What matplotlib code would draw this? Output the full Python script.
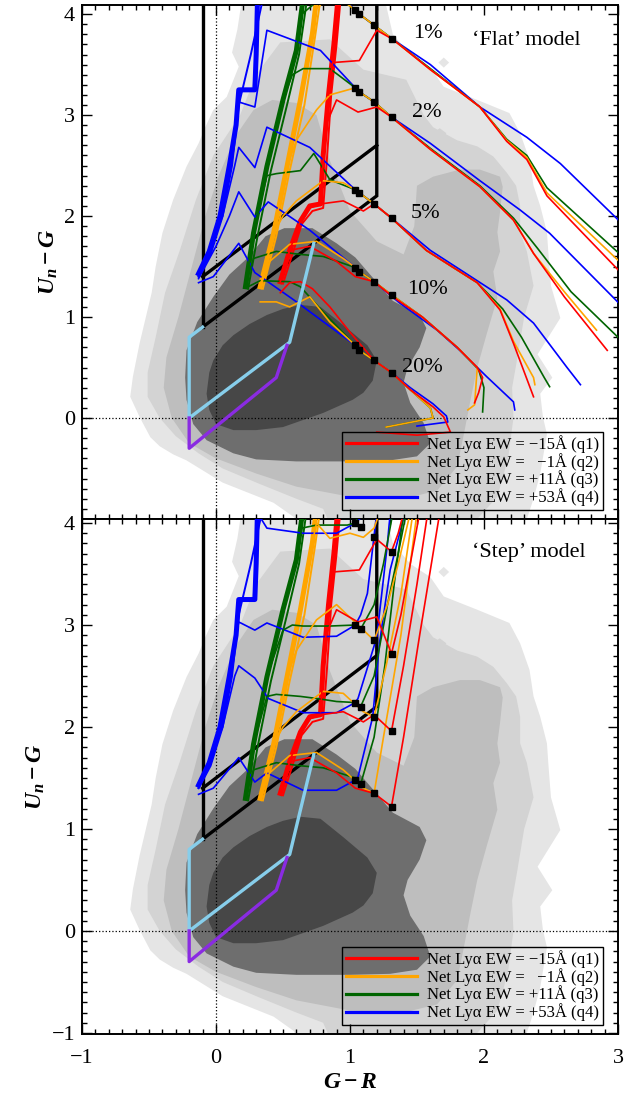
import matplotlib
matplotlib.use("Agg")
import matplotlib.pyplot as plt
from matplotlib.ticker import MultipleLocator
from matplotlib.lines import Line2D

plt.rcParams["font.family"] = ["Liberation Serif", "DejaVu Serif"]
plt.rcParams["mathtext.fontset"] = "custom"
plt.rcParams["mathtext.it"] = "Liberation Serif:italic:bold"
plt.rcParams["mathtext.rm"] = "Liberation Serif:bold"
plt.rcParams["mathtext.bf"] = "Liberation Serif:bold"

FONTSIZE = 16
RED, ORANGE, GREEN, BLUE = "#ff0000", "#ffa500", "#006400", "#0000ff"
SKY, PURPLE = "#87ceeb", "#8a2be2"
GREYS = ["#e5e5e5", "#d3d3d3", "#bebebe", "#6e6e6e", "#474747"]

# galaxy density contours, outermost first (data coords)
CONT_1 = [(0.20, 4.2), (0.16, 3.85), (0.12, 3.62), (0.17, 3.48), (0.08, 3.18), (-0.02, 3.05),
          (-0.08, 2.88), (-0.13, 2.72), (-0.22, 2.49), (-0.32, 2.16), (-0.40, 1.83), (-0.45, 1.50),
          (-0.48, 1.24), (-0.57, 0.74), (-0.62, 0.41), (-0.64, 0.21), (-0.57, 0.01), (-0.49, -0.19),
          (-0.42, -0.28), (-0.32, -0.36), (-0.22, -0.42), (0.05, -0.64), (0.24, -0.74), (0.43, -0.84),
          (0.58, -0.98), (0.65, -1.2), (2.30, -1.2), (2.32, -1.0), (2.37, -0.80), (2.42, -0.55),
          (2.47, -0.16), (2.44, 0.01), (2.42, 0.24), (2.51, 0.40), (2.40, 0.63), (2.57, 0.99),
          (2.50, 1.31), (2.48, 1.65), (2.47, 1.84), (2.42, 2.10), (2.37, 2.30), (2.34, 2.56),
          (2.27, 2.82), (2.19, 3.02), (1.95, 3.15), (1.70, 3.28), (1.60, 3.47), (1.45, 3.60),
          (1.32, 3.80), (1.25, 4.2)]
CONT_1_SPOT = [(1.66, 3.52), (1.70, 3.57), (1.74, 3.52), (1.70, 3.47)]
CONT_2 = [(0.48, 3.72), (0.85, 3.75), (1.10, 3.45), (1.42, 3.35), (1.55, 3.00), (1.62, 2.88),
          (1.80, 2.75), (1.95, 2.69), (2.07, 2.59), (2.17, 2.43), (2.24, 2.30), (2.27, 2.10),
          (2.27, 1.84), (2.32, 1.65), (2.37, 1.31), (2.30, 1.00), (2.25, 0.60), (2.21, 0.30),
          (2.22, 0.00), (2.18, -0.40), (2.10, -0.78), (1.95, -1.0), (1.90, -1.2), (0.90, -1.2),
          (0.80, -0.90), (0.60, -0.80), (0.32, -0.65), (0.05, -0.50), (-0.13, -0.35), (-0.30, -0.18),
          (-0.42, 0.00), (-0.51, 0.21), (-0.51, 0.45), (-0.45, 0.80), (-0.38, 1.24), (-0.27, 1.66),
          (-0.15, 2.16), (-0.02, 2.60), (0.18, 3.00), (0.30, 3.40)]
CONT_2_SPOT = [(1.62, 2.82), (1.67, 2.87), (1.72, 2.82), (1.67, 2.77)]
CONT_3 = [(0.42, 3.15), (0.28, 3.05), (0.15, 2.80), (0.02, 2.40), (-0.08, 2.00), (-0.18, 1.50),
          (-0.28, 1.00), (-0.37, 0.60), (-0.39, 0.30), (-0.33, 0.00), (-0.20, -0.25), (0.00, -0.40),
          (0.30, -0.55), (0.60, -0.68), (1.00, -0.78), (1.40, -0.80), (1.65, -0.72), (1.80, -0.48),
          (1.85, -0.16), (1.90, 0.18), (1.95, 0.50), (2.02, 0.83), (2.10, 1.19), (2.07, 1.45),
          (2.12, 1.65), (2.10, 1.84), (2.12, 2.04), (2.14, 2.29), (2.12, 2.39), (1.97, 2.46),
          (1.82, 2.46), (1.62, 2.39), (1.50, 2.30), (1.48, 1.90), (1.40, 1.62), (1.20, 1.75),
          (1.00, 2.05), (0.85, 2.55), (0.75, 3.00), (0.60, 3.12)]
CONT_4 = [(0.24, 1.59), (0.37, 1.80), (0.51, 1.88), (0.72, 1.88), (0.90, 1.73), (1.04, 1.59),
          (1.32, 1.16), (1.52, 1.02), (1.57, 0.89), (1.52, 0.70), (1.43, 0.50), (1.40, 0.35),
          (1.45, 0.15), (1.55, -0.05), (1.60, -0.25), (1.50, -0.38), (1.30, -0.42), (1.00, -0.43),
          (0.60, -0.43), (0.30, -0.41), (0.13, -0.35), (-0.07, -0.22), (-0.17, -0.06), (-0.22, 0.18),
          (-0.23, 0.40), (-0.22, 0.67), (-0.14, 0.95), (-0.02, 1.20), (0.10, 1.42)]
CONT_5 = [(-0.07, 0.24), (-0.05, 0.45), (-0.02, 0.57), (0.05, 0.72), (0.13, 0.82), (0.25, 0.93),
          (0.38, 1.02), (0.50, 1.08), (0.63, 1.12), (0.78, 1.10), (0.95, 0.92), (1.13, 0.72),
          (1.20, 0.57), (1.17, 0.37), (1.10, 0.25), (1.02, 0.18), (0.80, 0.05), (0.50, -0.09),
          (0.30, -0.12), (0.13, -0.12), (0.00, -0.06), (-0.05, 0.08)]

# selection box and the low-z windows
BOX_LEFT = ([-0.10, -0.10], [4.2, 0.90])
BOX_LOWER = ([-0.10, 1.20, 1.20], [0.90, 2.20, 4.2])
BOX_UPPER = ([-0.10, 1.20], [1.40, 2.70])
SKY_BOX = ([-0.10, -0.20, -0.20, 0.55, 0.73], [0.90, 0.80, 0.00, 0.75, 1.73])
PURPLE_BOX = ([-0.20, -0.20, 0.45, 0.53], [0.00, -0.30, 0.40, 0.72])

# thick low-redshift bundles (same in both panels)
BUNDLES = {
    BLUE: [([-0.13, -0.05, 0.03, 0.10, 0.15, 0.17, 0.29, 0.30, 0.31], [1.43, 1.65, 2.00, 2.50, 2.90, 3.25, 3.25, 3.60, 4.15]),
           ([-0.13, -0.04, 0.05, 0.12, 0.17, 0.26, 0.35], [1.40, 1.62, 2.00, 2.50, 3.10, 3.60, 4.15])],
    GREEN: [([0.22, 0.28, 0.38, 0.50, 0.60, 0.65], [1.30, 1.83, 2.49, 3.15, 3.64, 4.15]),
            ([0.24, 0.31, 0.41, 0.53, 0.62, 0.68], [1.28, 1.80, 2.45, 3.10, 3.60, 4.15])],
    ORANGE: [([0.33, 0.43, 0.53, 0.63, 0.72, 0.75], [1.30, 1.83, 2.49, 3.15, 3.81, 4.15]),
             ([0.35, 0.45, 0.55, 0.66, 0.74, 0.78], [1.28, 1.80, 2.45, 3.10, 3.78, 4.15])],
    RED: [([0.48, 0.55, 0.63, 0.70, 0.78, 0.80, 0.84, 0.88, 0.91], [1.35, 1.66, 1.95, 2.10, 2.12, 2.60, 3.20, 3.70, 4.15]),
          ([0.50, 0.57, 0.64, 0.72, 0.80, 0.83, 0.86, 0.90, 0.93], [1.33, 1.62, 1.92, 2.05, 2.08, 2.60, 3.20, 3.70, 4.15])],
}

# 'Flat' model tracks, one per transmission level (1, 2, 5, 10, 20 %)
FLAT_BLUE = [
    ([0.95, 1.04, 1.07, 1.18, 1.32, 1.60, 1.97, 2.32, 2.57, 3.05], [4.15, 4.04, 4.00, 3.89, 3.75, 3.50, 3.08, 2.78, 2.52, 1.90]),
    ([-0.13, 0.00, 0.10, 0.17, 0.29, 0.38, 0.78, 1.04, 1.07, 1.18, 1.31, 1.60, 1.97, 2.27, 2.49, 3.05], [1.41, 1.85, 2.50, 3.13, 3.08, 3.84, 3.64, 3.27, 3.23, 3.13, 2.98, 2.72, 2.35, 2.06, 1.83, 1.08]),
    ([-0.13, 0.05, 0.14, 0.17, 0.29, 0.38, 0.70, 1.04, 1.07, 1.18, 1.31, 1.60, 2.17, 2.37, 2.62, 2.72], [1.40, 2.00, 2.50, 2.68, 2.48, 2.88, 2.68, 2.26, 2.23, 2.12, 1.98, 1.66, 1.17, 0.94, 0.50, 0.33]),
    ([-0.13, 0.00, 0.10, 0.17, 0.29, 0.39, 0.70, 1.04, 1.07, 1.18, 1.37, 1.65, 1.82, 2.02, 2.22, 2.23], [1.38, 1.70, 2.00, 2.24, 1.99, 2.14, 1.86, 1.49, 1.45, 1.35, 1.14, 0.87, 0.67, 0.41, 0.16, 0.08]),
    ([-0.13, -0.02, 0.17, 0.29, 0.58, 1.04, 1.07, 1.18, 1.31, 1.45, 1.62, 1.72, 1.73, 1.50], [1.34, 1.40, 1.73, 1.44, 1.17, 0.72, 0.67, 0.57, 0.45, 0.30, 0.14, 0.02, -0.04, -0.08]),
]
FLAT_GREEN = [
    ([0.60, 0.64, 0.75, 0.98, 1.04, 1.07, 1.18, 1.32, 1.60, 1.97, 2.17, 2.32, 2.47, 3.05], [3.64, 4.00, 4.12, 4.10, 4.04, 4.00, 3.89, 3.75, 3.46, 3.08, 2.76, 2.60, 2.28, 1.58]),
    ([0.22, 0.28, 0.38, 0.50, 0.57, 0.65, 0.85, 1.04, 1.07, 1.18, 1.31, 1.60, 1.97, 2.22, 2.40, 2.65, 3.00], [1.30, 1.83, 2.49, 3.15, 3.40, 3.46, 3.46, 3.27, 3.23, 3.13, 2.98, 2.67, 2.30, 1.98, 1.68, 1.25, 0.80]),
    ([0.22, 0.28, 0.38, 0.45, 0.63, 0.73, 0.85, 1.04, 1.07, 1.18, 1.31, 1.57, 1.95, 2.14, 2.28, 2.45, 2.49], [1.30, 1.83, 2.40, 2.42, 2.45, 2.62, 2.36, 2.26, 2.23, 2.12, 1.98, 1.66, 1.34, 1.08, 0.80, 0.40, 0.31]),
    ([0.22, 0.28, 0.45, 0.63, 0.80, 1.04, 1.07, 1.18, 1.31, 1.54, 1.80, 1.96, 2.00, 1.99], [1.32, 1.58, 1.65, 1.62, 1.60, 1.49, 1.45, 1.35, 1.22, 1.00, 0.70, 0.48, 0.30, 0.06]),
    ([0.24, 0.33, 0.55, 0.63, 0.80, 1.04, 1.07, 1.18, 1.31, 1.45, 1.60, 1.62, 1.27], [1.30, 1.36, 1.35, 1.30, 1.05, 0.72, 0.67, 0.57, 0.45, 0.28, 0.10, 0.00, -0.09]),
]
FLAT_ORANGE = [
    ([0.72, 0.75, 0.80, 0.98, 1.04, 1.07, 1.18, 1.32, 1.60, 1.97, 2.17, 2.32, 2.47, 3.05], [3.81, 4.05, 4.12, 4.10, 4.04, 4.00, 3.89, 3.75, 3.45, 3.08, 2.75, 2.58, 2.23, 1.50]),
    ([0.33, 0.43, 0.53, 0.60, 0.75, 0.85, 1.04, 1.07, 1.18, 1.31, 1.60, 1.97, 2.22, 2.37, 2.60, 2.84], [1.30, 1.83, 2.49, 2.75, 3.05, 3.20, 3.27, 3.23, 3.13, 2.98, 2.66, 2.29, 1.96, 1.63, 1.25, 0.87]),
    ([0.33, 0.43, 0.50, 0.60, 0.80, 0.95, 1.04, 1.07, 1.18, 1.31, 1.57, 1.95, 2.12, 2.22, 2.37, 2.38], [1.30, 1.83, 2.00, 2.15, 2.35, 2.33, 2.26, 2.23, 2.12, 1.98, 1.66, 1.34, 1.08, 0.76, 0.40, 0.33]),
    ([0.33, 0.40, 0.55, 0.75, 0.95, 1.04, 1.07, 1.18, 1.31, 1.54, 1.80, 1.95, 1.93, 1.88], [1.30, 1.55, 1.72, 1.75, 1.58, 1.49, 1.45, 1.35, 1.22, 1.00, 0.70, 0.50, 0.13, 0.08]),
    ([0.33, 0.45, 0.55, 0.70, 0.85, 1.04, 1.07, 1.18, 1.31, 1.45, 1.60, 1.62, 1.27], [1.15, 1.15, 1.10, 1.20, 0.95, 0.72, 0.67, 0.57, 0.45, 0.28, 0.10, 0.00, -0.09]),
]
FLAT_RED = [
    ([0.84, 0.87, 1.07, 1.20, 1.32, 1.60, 1.97, 2.17, 2.32, 2.47, 3.05], [3.20, 3.52, 3.54, 3.84, 3.75, 3.45, 3.08, 2.74, 2.56, 2.20, 1.40]),
    ([0.78, 0.82, 0.90, 1.06, 1.20, 1.31, 1.60, 1.97, 2.22, 2.37, 2.60, 2.92], [2.15, 2.90, 3.15, 3.03, 3.08, 2.98, 2.66, 2.29, 1.96, 1.63, 1.20, 0.67]),
    ([0.48, 0.55, 0.63, 0.70, 0.78, 0.95, 1.10, 1.18, 1.31, 1.57, 1.95, 2.12, 2.22, 2.37], [1.35, 1.66, 1.95, 2.08, 2.12, 2.15, 2.05, 2.12, 1.98, 1.66, 1.34, 1.07, 0.74, 0.21]),
    ([0.48, 0.55, 0.70, 0.90, 1.04, 1.18, 1.32, 1.54, 1.80, 1.95, 1.99, 1.96, 1.93], [1.38, 1.66, 1.70, 1.55, 1.40, 1.35, 1.20, 1.00, 0.70, 0.50, 0.40, 0.25, 0.15]),
    ([0.48, 0.55, 0.63, 0.72, 0.85, 1.00, 1.18, 1.31, 1.45, 1.62, 1.70, 1.75, 1.50, 1.20], [1.24, 1.34, 1.35, 1.28, 1.10, 0.85, 0.57, 0.45, 0.28, 0.11, 0.01, -0.14, -0.17, -0.14]),
]
FLAT_SQ_X = [1.04, 1.07, 1.18, 1.31]
FLAT_SQ_Y = [[4.04, 4.00, 3.89, 3.75], [3.27, 3.23, 3.13, 2.98], [2.26, 2.23, 2.12, 1.98],
             [1.49, 1.45, 1.35, 1.22], [0.72, 0.67, 0.57, 0.45]]
PCT_LABELS = ["1%", "2%", "5%", "10%", "20%"]
PCT_X = [1.47, 1.46, 1.45, 1.43, 1.39]
PCT_Y = [3.81, 3.03, 2.03, 1.27, 0.50]

# 'Step' model tracks
STEP_BLUE = [
    ([0.31, 0.38, 0.65, 0.78, 0.90, 1.04, 1.08, 1.12], [4.10, 3.95, 3.90, 3.90, 3.90, 4.00, 4.05, 4.12]),
    ([-0.13, 0.00, 0.10, 0.17, 0.29, 0.38, 0.65, 0.90, 1.04, 1.08, 1.13, 1.20], [1.41, 1.85, 2.50, 3.03, 2.95, 3.02, 2.88, 2.89, 3.00, 3.10, 3.31, 4.10]),
    ([-0.13, 0.05, 0.14, 0.17, 0.29, 0.39, 0.65, 0.90, 1.04, 1.06, 1.20, 1.28, 1.30], [1.40, 2.00, 2.50, 2.60, 2.48, 2.28, 2.14, 2.14, 2.24, 2.28, 2.88, 3.80, 4.10]),
    ([-0.13, -0.02, 0.17, 0.29, 0.38, 0.65, 0.90, 1.04, 1.06, 1.17, 1.22, 1.30, 1.41], [1.34, 1.40, 1.70, 1.46, 1.55, 1.38, 1.38, 1.48, 1.51, 2.10, 2.82, 3.54, 4.10]),
]
STEP_GREEN = [
    ([0.60, 0.64, 0.75, 0.98, 1.04, 1.07], [3.64, 3.95, 3.98, 3.98, 4.00, 4.10]),
    ([0.22, 0.28, 0.38, 0.50, 0.57, 0.65, 0.85, 1.04, 1.08, 1.18, 1.25, 1.32], [1.30, 1.83, 2.49, 2.95, 3.00, 2.99, 2.99, 3.00, 2.96, 3.20, 3.60, 4.10]),
    ([0.22, 0.28, 0.38, 0.45, 0.63, 0.75, 0.90, 1.04, 1.08, 1.18, 1.28, 1.36, 1.42], [1.30, 1.83, 2.30, 2.32, 2.30, 2.28, 2.25, 2.24, 2.20, 2.50, 3.20, 3.70, 4.10]),
    ([0.22, 0.28, 0.45, 0.63, 0.80, 1.04, 1.08, 1.18, 1.26, 1.33, 1.40], [1.32, 1.58, 1.65, 1.62, 1.60, 1.50, 1.44, 1.90, 2.60, 3.40, 4.10]),
]
STEP_ORANGE = [
    ([0.72, 0.75, 0.85, 1.00, 1.10, 1.18, 1.22], [3.81, 4.00, 3.85, 3.90, 3.86, 3.95, 4.10]),
    ([0.33, 0.43, 0.53, 0.60, 0.75, 0.90, 1.10, 1.18, 1.28, 1.36, 1.45], [1.30, 1.83, 2.49, 2.75, 3.05, 3.20, 2.95, 2.85, 3.20, 3.60, 4.10]),
    ([0.33, 0.43, 0.50, 0.60, 0.80, 0.95, 1.10, 1.18, 1.27, 1.38, 1.47], [1.30, 1.83, 2.00, 2.15, 2.35, 2.33, 2.15, 2.10, 2.60, 3.30, 4.10]),
    ([0.33, 0.40, 0.55, 0.75, 0.95, 1.10, 1.18, 1.25, 1.38, 1.50], [1.30, 1.55, 1.72, 1.75, 1.58, 1.40, 1.35, 1.90, 2.90, 4.10]),
]
STEP_RED = [
    ([0.84, 0.87, 1.07, 1.20, 1.31, 1.36, 1.40], [3.20, 3.52, 3.54, 3.84, 3.72, 3.90, 4.10]),
    ([0.78, 0.82, 0.90, 1.06, 1.20, 1.31, 1.38, 1.45, 1.52], [2.15, 2.90, 3.15, 3.03, 3.08, 2.72, 3.10, 3.60, 4.10]),
    ([0.48, 0.55, 0.63, 0.70, 0.78, 0.95, 1.10, 1.18, 1.31, 1.40, 1.50, 1.58], [1.35, 1.66, 1.95, 2.08, 2.12, 2.15, 2.05, 2.12, 1.96, 2.60, 3.40, 4.10]),
    ([0.48, 0.55, 0.70, 0.90, 1.04, 1.18, 1.31, 1.40, 1.52, 1.67], [1.38, 1.66, 1.70, 1.55, 1.40, 1.35, 1.22, 1.90, 2.90, 4.10]),
]
STEP_SQ_X = [1.04, 1.08, 1.18, 1.31]
STEP_SQ_Y = [[4.00, 3.96, 3.86, 3.72], [3.00, 2.96, 2.85, 2.72], [2.24, 2.20, 2.10, 1.96],
             [1.48, 1.44, 1.35, 1.22]]

LEGEND_LABELS = ["Net Ly\u03b1 EW = \u221215\u00c5 (q1)", "Net Ly\u03b1 EW =   \u22121\u00c5 (q2)",
                 "Net Ly\u03b1 EW = +11\u00c5 (q3)", "Net Ly\u03b1 EW = +53\u00c5 (q4)"]
LEGEND_COLORS = [RED, ORANGE, GREEN, BLUE]


def draw_base(ax):
    for level, poly in enumerate([CONT_1, CONT_2, CONT_3, CONT_4, CONT_5]):
        xs, ys = zip(*poly)
        ax.fill(xs, ys, color=GREYS[level], lw=0, zorder=1 + level * 0.1)
    for level, spot in ((0, CONT_1_SPOT), (1, CONT_2_SPOT)):
        xs, ys = zip(*spot)
        ax.fill(xs, ys, color=GREYS[level], lw=0, zorder=1.05)
    ax.axhline(0, color="k", ls=":", lw=0.9, zorder=2)
    ax.axvline(0, color="k", ls=":", lw=0.9, zorder=2)
    for xs, ys in (BOX_LEFT, BOX_LOWER, BOX_UPPER):
        ax.plot(xs, ys, color="k", lw=2.4, zorder=3, solid_joinstyle="miter")
    for color, tracks in BUNDLES.items():
        ax.plot(*tracks[0], color=color, lw=3.6, zorder=4)
        ax.plot(*tracks[1], color=color, lw=1.4, zorder=4)


def draw_tracks(ax, groups, sq_x, sq_y):
    for color, tracks in groups:
        for xs, ys in tracks:
            ax.plot(xs, ys, color=color, lw=1.2, zorder=4)
    ax.plot(*SKY_BOX, color=SKY, lw=2.4, zorder=5)
    ax.plot(*PURPLE_BOX, color=PURPLE, lw=2.4, zorder=5)
    for row in sq_y:
        ax.plot(sq_x, row, "s", color="k", ms=5, zorder=6)


def style_axes(ax, yticks):
    ax.set_xlim(-1, 3)
    ax.xaxis.set_major_locator(MultipleLocator(1))
    ax.xaxis.set_minor_locator(MultipleLocator(0.1))
    ax.yaxis.set_minor_locator(MultipleLocator(0.1))
    ax.set_yticks(yticks)
    ax.tick_params(which="both", direction="in", top=True, right=True, width=1.0,
                   labelsize=FONTSIZE)
    ax.tick_params(which="major", length=7)
    ax.tick_params(which="minor", length=3.5)
    ax.tick_params(axis="x", pad=11)
    ax.tick_params(axis="y", pad=5)
    for sp in ax.spines.values():
        sp.set_linewidth(1.4)
    ax.set_ylabel(r"$U_n - G$", fontsize=17, labelpad=3)
    handles = [Line2D([], [], color=c, lw=2.3) for c in LEGEND_COLORS]
    leg = ax.legend(handles, LEGEND_LABELS, loc="lower right", bbox_to_anchor=(0.972, 0.018),
                    borderaxespad=0, fontsize=12, handlelength=4.3, handletextpad=0.6,
                    labelspacing=0.0, borderpad=0.2, fancybox=False, framealpha=1,
                    facecolor="none", edgecolor="k")
    leg.get_frame().set_linewidth(1.0)
    leg.set_zorder(10)


fig = plt.figure(figsize=(6.37, 10.93), dpi=100)
ax_top = fig.add_axes([0.1287, 0.5252, 0.8414, 0.4702])
ax_bot = fig.add_axes([0.1287, 0.0540, 0.8414, 0.4712])

draw_base(ax_top)
draw_tracks(ax_top, [(BLUE, FLAT_BLUE), (GREEN, FLAT_GREEN), (ORANGE, FLAT_ORANGE), (RED, FLAT_RED)],
            FLAT_SQ_X, FLAT_SQ_Y)
for lab, x, y in zip(PCT_LABELS, PCT_X, PCT_Y):
    ax_top.text(x, y, lab, fontsize=FONTSIZE, ha="left", va="center", zorder=7)
ax_top.text(1.91, 3.74, "\u2018Flat\u2019 model", fontsize=FONTSIZE, ha="left", va="center")
ax_top.set_ylim(-1.0, 4.09)
style_axes(ax_top, [0, 1, 2, 3, 4])
ax_top.tick_params(labelbottom=False)

draw_base(ax_bot)
draw_tracks(ax_bot, [(BLUE, STEP_BLUE), (GREEN, STEP_GREEN), (ORANGE, STEP_ORANGE), (RED, STEP_RED)],
            STEP_SQ_X, STEP_SQ_Y)
ax_bot.text(1.91, 3.71, "\u2018Step\u2019 model", fontsize=FONTSIZE, ha="left", va="center")
ax_bot.set_ylim(-1.01, 4.04)
style_axes(ax_bot, [-1, 0, 1, 2, 3, 4])
ax_bot.set_xlabel(r"$G - R$", fontsize=17, labelpad=3)

fig.savefig("out.png", dpi=100)
